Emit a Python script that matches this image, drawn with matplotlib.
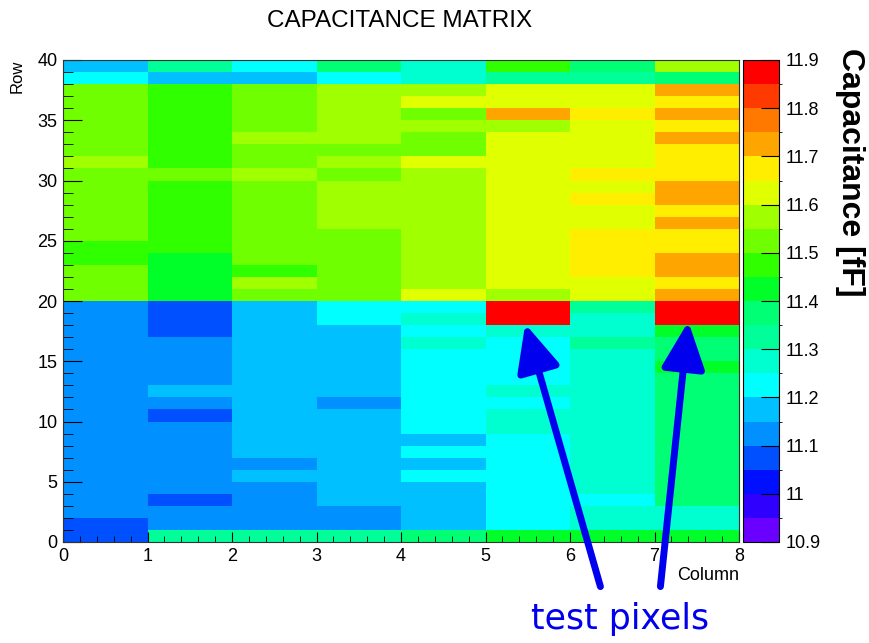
import numpy as np
import matplotlib
matplotlib.use("Agg")
import matplotlib.pyplot as plt
from matplotlib.colors import ListedColormap, BoundaryNorm
from matplotlib.ticker import FuncFormatter, MultipleLocator

plt.rcParams['font.family'] = ['Liberation Sans', 'DejaVu Sans']

# ======== data: capacitance [fF] per column, row 0 -> row 39 ========
col_0 = [11.07, 11.07,
         11.12, 11.12, 11.12, 11.12, 11.12, 11.12, 11.12, 11.12, 11.12,
         11.12, 11.12, 11.12, 11.12, 11.12, 11.12, 11.12, 11.12, 11.12,
         11.52, 11.52, 11.52, 11.47, 11.47, 11.52, 11.52, 11.52, 11.52, 11.52,
         11.52, 11.57, 11.52, 11.52, 11.52, 11.52, 11.52, 11.52, 11.22, 11.17]
col_1 = [11.32, 11.12, 11.12, 11.07, 11.12, 11.12, 11.12, 11.12, 11.12, 11.12,
         11.07, 11.12, 11.17, 11.12, 11.12, 11.12, 11.12, 11.07, 11.07, 11.07,
         11.42, 11.42, 11.42, 11.42, 11.47, 11.47, 11.47, 11.47, 11.47, 11.47,
         11.52, 11.47, 11.47, 11.47, 11.47, 11.47, 11.47, 11.47, 11.17, 11.32]
col_2 = [11.32, 11.12, 11.12, 11.12, 11.12, 11.17, 11.12, 11.17, 11.17, 11.17,
         11.17, 11.17, 11.17, 11.17, 11.17, 11.17, 11.17, 11.17, 11.17, 11.17,
         11.52, 11.57, 11.47, 11.52, 11.52, 11.52, 11.52, 11.52, 11.52, 11.52,
         11.57, 11.52, 11.52, 11.57, 11.52, 11.52, 11.52, 11.52, 11.17, 11.22]
col_3 = [11.32, 11.12, 11.12, 11.17, 11.17, 11.17, 11.17, 11.17, 11.17, 11.17,
         11.17, 11.12, 11.17, 11.17, 11.17, 11.17, 11.17, 11.17, 11.22, 11.22,
         11.52, 11.52, 11.52, 11.52, 11.52, 11.52, 11.57, 11.57, 11.57, 11.57,
         11.52, 11.57, 11.52, 11.57, 11.57, 11.57, 11.57, 11.57, 11.22, 11.37]
col_4 = [11.37, 11.17, 11.17, 11.17, 11.17, 11.22, 11.17, 11.22, 11.17, 11.22,
         11.22, 11.22, 11.22, 11.22, 11.22, 11.22, 11.27, 11.22, 11.27, 11.22,
         11.62, 11.57, 11.57, 11.57, 11.57, 11.57, 11.57, 11.57, 11.57, 11.57,
         11.57, 11.62, 11.52, 11.52, 11.57, 11.52, 11.62, 11.57, 11.27, 11.27]
col_5 = [11.42, 11.22, 11.22, 11.22, 11.22, 11.22, 11.22, 11.22, 11.22, 11.27,
         11.27, 11.22, 11.27, 11.22, 11.22, 11.22, 11.22, 11.27, 11.88, 11.88,
         11.57, 11.62, 11.62, 11.62, 11.62, 11.62, 11.62, 11.62, 11.62, 11.62,
         11.62, 11.62, 11.62, 11.62, 11.57, 11.72, 11.62, 11.62, 11.32, 11.47]
col_6 = [11.42, 11.27, 11.27, 11.22, 11.27, 11.27, 11.27, 11.27, 11.27, 11.27,
         11.27, 11.27, 11.27, 11.27, 11.27, 11.27, 11.32, 11.27, 11.27, 11.32,
         11.62, 11.62, 11.67, 11.67, 11.67, 11.67, 11.62, 11.62, 11.67, 11.62,
         11.67, 11.62, 11.62, 11.62, 11.62, 11.67, 11.62, 11.62, 11.32, 11.37]
col_7 = [11.42, 11.27, 11.27, 11.37, 11.37, 11.37, 11.37, 11.37, 11.37, 11.37,
         11.37, 11.37, 11.37, 11.37, 11.42, 11.37, 11.37, 11.42, 11.88, 11.88,
         11.72, 11.67, 11.72, 11.72, 11.67, 11.67, 11.72, 11.67, 11.72, 11.72,
         11.67, 11.67, 11.67, 11.72, 11.67, 11.72, 11.67, 11.72, 11.37, 11.57]

columns = [col_0, col_1, col_2, col_3, col_4, col_5, col_6, col_7]
cbar_ticks = [10.9, 11.0, 11.1, 11.2, 11.3, 11.4, 11.5, 11.6, 11.7, 11.8, 11.9]

# ROOT-like rainbow palette, 20 steps of 0.05 fF
palette = ['#6a00ff', '#3000ff', '#0010ff', '#0050ff', '#0090ff',
           '#00c0ff', '#00ffff', '#00ffd0', '#00ff98', '#00ff74',
           '#00ff28', '#30ff00', '#70ff00', '#a0ff00', '#e0ff00',
           '#ffee00', '#ffa500', '#ff7800', '#ff3a00', '#ff0000']
cmap = ListedColormap(palette)
bounds = np.linspace(10.9, 11.9, len(palette) + 1)
norm = BoundaryNorm(bounds, cmap.N)

Z = np.array(columns).T
x_edges = np.arange(len(columns) + 1)
y_edges = np.arange(Z.shape[0] + 1)

W, H = 869, 643
fig = plt.figure(figsize=(W / 100, H / 100), dpi=100)
ax = fig.add_axes([63 / W, 1 - 542 / H, 676 / W, 482 / H])
mesh = ax.pcolormesh(x_edges, y_edges, Z, cmap=cmap, norm=norm)

ax.set_xlim(0, 8)
ax.set_ylim(0, 40)
ax.xaxis.set_major_locator(MultipleLocator(1))
ax.xaxis.set_minor_locator(MultipleLocator(0.2))
ax.yaxis.set_major_locator(MultipleLocator(5))
ax.yaxis.set_minor_locator(MultipleLocator(1))
ax.tick_params(axis='x', which='major', direction='in', length=7, width=0.8, labelsize=13, pad=4)
ax.tick_params(axis='x', which='minor', direction='in', length=4, width=0.6)
ax.tick_params(axis='y', which='major', direction='in', length=14, width=0.8, labelsize=13, pad=4)
ax.tick_params(axis='y', which='minor', direction='in', length=7, width=0.6)
for sp in ax.spines.values():
    sp.set_linewidth(0.8)
    sp.set_color('#333333')

ax.set_xlabel('Column', loc='right', fontsize=13, labelpad=2)
ax.set_ylabel('Row', loc='top', fontsize=12, labelpad=9)

fig.text(400 / W, 1 - 21 / H, 'CAPACITANCE MATRIX', ha='center', va='center', fontsize=17.5)

# ======== color bar ========
cax = fig.add_axes([743 / W, 1 - 542 / H, 36 / W, 482 / H])
cb = fig.colorbar(mesh, cax=cax, ticks=cbar_ticks)
cb.outline.set_linewidth(0.8)
cax.yaxis.set_major_formatter(FuncFormatter(lambda v, p: '%g' % round(v, 2)))
cax.tick_params(direction='in', length=13, width=0.8, labelsize=13, pad=5)
fig.text(850 / W, 1 - 172 / H, 'Capacitance [fF]', rotation=-90, ha='center', va='center',
         fontsize=23, fontweight='bold')

# ======== test pixel arrows ========
arrow_style = dict(arrowstyle='-|>,head_length=1.3,head_width=0.6', lw=5,
                   color='#0000ee', mutation_scale=22, shrinkA=0, shrinkB=0)
ax.annotate('', xy=(5.47, 18.1), xytext=(6.36, -3.7), xycoords='data',
            textcoords='data', arrowprops=arrow_style, annotation_clip=False)
ax.annotate('', xy=(7.4, 18.3), xytext=(7.07, -3.7), xycoords='data',
            textcoords='data', arrowprops=arrow_style, annotation_clip=False)
fig.text(620 / W, 1 - 619 / H, 'test pixels', ha='center', va='center',
         fontsize=25, color='#0000ee', family=['DejaVu Sans'])

fig.savefig('out.png', dpi=100)
